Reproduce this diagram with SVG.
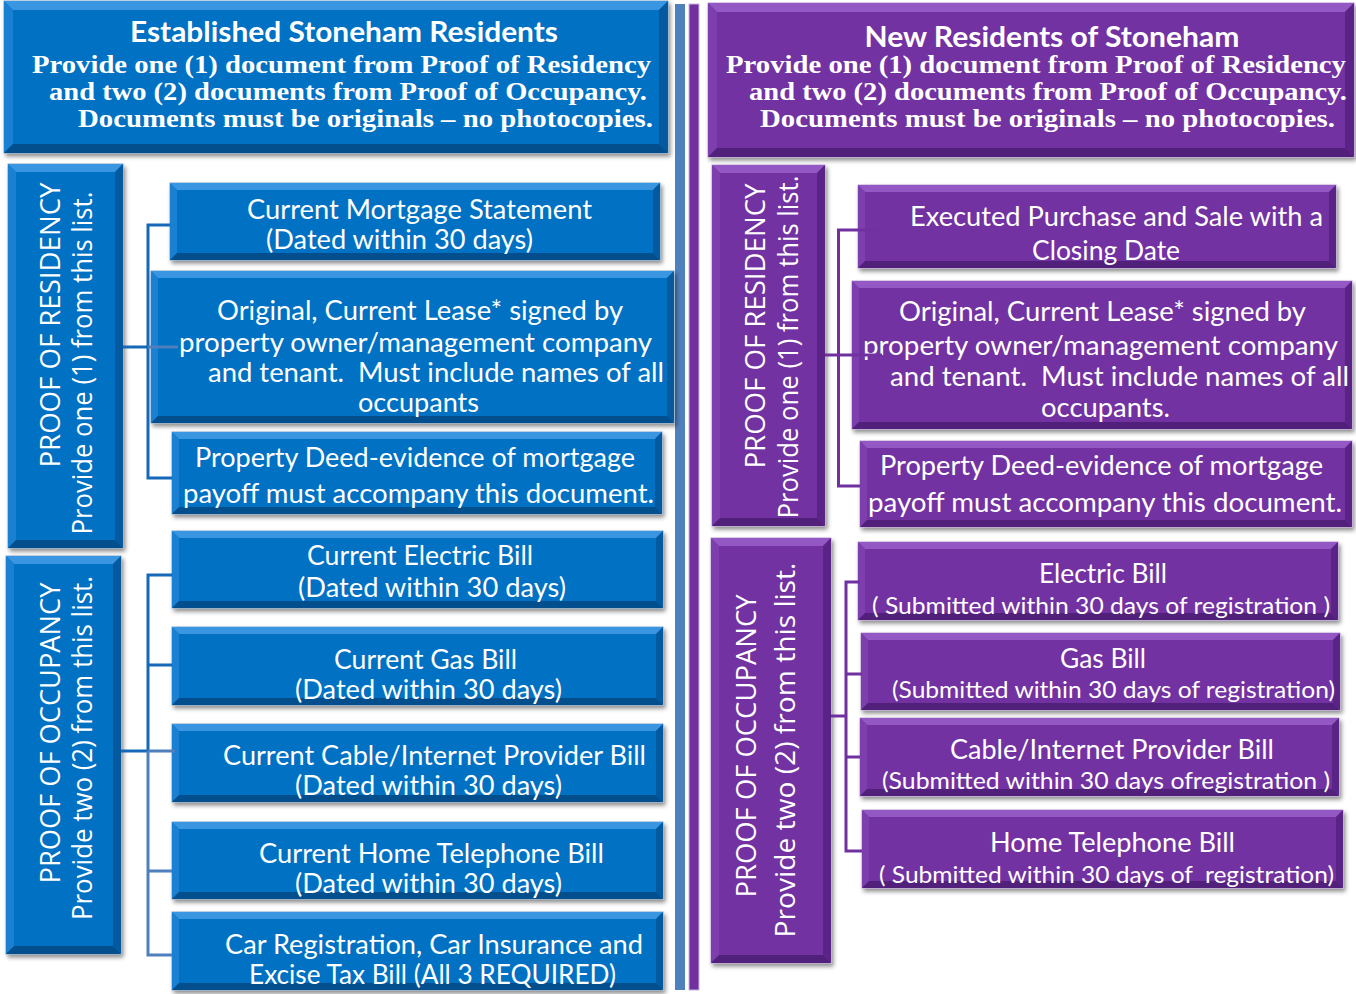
<svg xmlns="http://www.w3.org/2000/svg" width="1356" height="994" viewBox="0 0 1356 994">
<defs>
<filter id="sh" x="-5%" y="-5%" width="115%" height="125%">
<feDropShadow dx="2" dy="3" stdDeviation="2" flood-color="#000" flood-opacity="0.45"/>
</filter>
<style>
.blue .base{fill:#0671c3;stroke:#86a9cc;stroke-width:1}
.blue .bt{fill:#3b96e2}
.blue .bl{fill:#1a80d2}
.blue .br{fill:#04599f}
.blue .bb{fill:#034f8e}
.purple .base{fill:#7232a2;stroke:#b9a2d4;stroke-width:1}
.purple .bt{fill:#9358c4}
.purple .bl{fill:#7e3fae}
.purple .br{fill:#5a2486}
.purple .bb{fill:#51207b}
text{fill:#fff;white-space:pre}
.h{font-family:Lato,"Open Sans","Liberation Sans",sans-serif;font-weight:bold;font-size:28px}
.s{font-family:"Liberation Serif","DejaVu Serif",serif;font-weight:bold;font-size:25px}
.v{font-family:"Open Sans","Liberation Sans",sans-serif;font-size:27px}
.t{font-family:Lato,"Open Sans","Liberation Sans",sans-serif;font-size:26px}
.t2{font-family:Lato,"Open Sans","Liberation Sans",sans-serif;font-size:24px}
.cb{fill:none;stroke:#1668b8;stroke-width:3}
.cl{fill:none;stroke:#4f7fbd;stroke-width:3}
.cp{fill:none;stroke:#7030a0;stroke-width:3}
</style>
</defs>
<rect width="1356" height="994" fill="#fff"/>
<g id="dividers">
<rect x="675" y="4" width="10" height="986" fill="#4f81bd"/>
<rect x="689" y="4" width="10" height="986" fill="#7030a0" stroke="#c9b5dc" stroke-width="1"/>
</g>

<g id="header-established" class="blue">
<rect class="base" x="4" y="1" width="664" height="152" filter="url(#sh)"/>
<polygon class="bt" points="4,1 668,1 659,10 13,10"/>
<polygon class="bl" points="4,1 13,10 13,144 4,153"/>
<polygon class="br" points="668,1 668,153 659,144 659,10"/>
<polygon class="bb" points="4,153 668,153 659,144 13,144"/>
<text class="h" x="344" y="42" text-anchor="middle" textLength="428" lengthAdjust="spacingAndGlyphs">Established Stoneham Residents</text>
<text class="s" x="32" y="73" textLength="619" lengthAdjust="spacingAndGlyphs">Provide one (1) document from Proof of Residency</text>
<text class="s" x="49" y="100" textLength="598" lengthAdjust="spacingAndGlyphs">and two (2) documents from Proof of Occupancy.</text>
<text class="s" x="78" y="127" textLength="575" lengthAdjust="spacingAndGlyphs">Documents must be originals – no photocopies.</text>
</g>

<g id="left-residency" class="blue">
<rect class="base" x="8" y="164" width="115" height="384" filter="url(#sh)"/>
<polygon class="bt" points="8,164 123,164 115,172 16,172"/>
<polygon class="bl" points="8,164 16,172 16,540 8,548"/>
<polygon class="br" points="123,164 123,548 115,540 115,172"/>
<polygon class="bb" points="8,548 123,548 115,540 16,540"/>
<text class="v" transform="translate(60,325) rotate(-90)" text-anchor="middle" textLength="285" lengthAdjust="spacingAndGlyphs">PROOF OF RESIDENCY</text>
<text class="v" transform="translate(92,363) rotate(-90)" text-anchor="middle" textLength="343" lengthAdjust="spacingAndGlyphs">Provide one (1) from this list.</text>
</g>

<g id="left-occupancy" class="blue">
<rect class="base" x="6" y="556" width="115" height="398" filter="url(#sh)"/>
<polygon class="bt" points="6,556 121,556 113,564 14,564"/>
<polygon class="bl" points="6,556 14,564 14,946 6,954"/>
<polygon class="br" points="121,556 121,954 113,946 113,564"/>
<polygon class="bb" points="6,954 121,954 113,946 14,946"/>
<text class="v" transform="translate(60,733) rotate(-90)" text-anchor="middle" textLength="301" lengthAdjust="spacingAndGlyphs">PROOF OF OCCUPANCY</text>
<text class="v" transform="translate(92,748) rotate(-90)" text-anchor="middle" textLength="344" lengthAdjust="spacingAndGlyphs">Provide two (2) from this list.</text>
</g>

<g id="l-mortgage" class="blue">
<rect class="base" x="170" y="183" width="490" height="77" filter="url(#sh)"/>
<polygon class="bt" points="170,183 660,183 653,190 177,190"/>
<polygon class="bl" points="170,183 177,190 177,253 170,260"/>
<polygon class="br" points="660,183 660,260 653,253 653,190"/>
<polygon class="bb" points="170,260 660,260 653,253 177,253"/>
<text class="t" x="247" y="219" textLength="345" lengthAdjust="spacingAndGlyphs">Current Mortgage Statement</text>
<text class="t" x="266" y="249" textLength="267" lengthAdjust="spacingAndGlyphs">(Dated within 30 days)</text>
</g>

<g id="l-lease" class="blue">
<rect class="base" x="151" y="271" width="523" height="152" filter="url(#sh)"/>
<polygon class="bt" points="151,271 674,271 667,278 158,278"/>
<polygon class="bl" points="151,271 158,278 158,416 151,423"/>
<polygon class="br" points="674,271 674,423 667,416 667,278"/>
<polygon class="bb" points="151,423 674,423 667,416 158,416"/>
<text class="t" x="217" y="320" textLength="406" lengthAdjust="spacingAndGlyphs">Original, Current Lease* signed by</text>
<text class="t" x="179" y="352" textLength="473" lengthAdjust="spacingAndGlyphs">property owner/management company</text>
<text class="t" x="208" y="382" textLength="456" lengthAdjust="spacingAndGlyphs">and tenant.  Must include names of all</text>
<text class="t" x="358" y="412" textLength="121" lengthAdjust="spacingAndGlyphs">occupants</text>
</g>

<g id="l-deed" class="blue">
<rect class="base" x="172" y="432" width="490" height="82" filter="url(#sh)"/>
<polygon class="bt" points="172,432 662,432 655,439 179,439"/>
<polygon class="bl" points="172,432 179,439 179,507 172,514"/>
<polygon class="br" points="662,432 662,514 655,507 655,439"/>
<polygon class="bb" points="172,514 662,514 655,507 179,507"/>
<text class="t" x="195" y="467" textLength="440" lengthAdjust="spacingAndGlyphs">Property Deed-evidence of mortgage</text>
<text class="t" x="183" y="503" textLength="471" lengthAdjust="spacingAndGlyphs">payoff must accompany this document.</text>
</g>

<g id="l-electric" class="blue">
<rect class="base" x="172" y="531" width="491" height="77" filter="url(#sh)"/>
<polygon class="bt" points="172,531 663,531 656,538 179,538"/>
<polygon class="bl" points="172,531 179,538 179,601 172,608"/>
<polygon class="br" points="663,531 663,608 656,601 656,538"/>
<polygon class="bb" points="172,608 663,608 656,601 179,601"/>
<text class="t" x="307" y="565" textLength="226" lengthAdjust="spacingAndGlyphs">Current Electric Bill</text>
<text class="t" x="298" y="597" textLength="268" lengthAdjust="spacingAndGlyphs">(Dated within 30 days)</text>
</g>

<g id="l-gas" class="blue">
<rect class="base" x="172" y="627" width="491" height="78" filter="url(#sh)"/>
<polygon class="bt" points="172,627 663,627 656,634 179,634"/>
<polygon class="bl" points="172,627 179,634 179,698 172,705"/>
<polygon class="br" points="663,627 663,705 656,698 656,634"/>
<polygon class="bb" points="172,705 663,705 656,698 179,698"/>
<text class="t" x="334" y="669" textLength="183" lengthAdjust="spacingAndGlyphs">Current Gas Bill</text>
<text class="t" x="295" y="699" textLength="267" lengthAdjust="spacingAndGlyphs">(Dated within 30 days)</text>
</g>

<g id="l-cable" class="blue">
<rect class="base" x="172" y="724" width="491" height="78" filter="url(#sh)"/>
<polygon class="bt" points="172,724 663,724 656,731 179,731"/>
<polygon class="bl" points="172,724 179,731 179,795 172,802"/>
<polygon class="br" points="663,724 663,802 656,795 656,731"/>
<polygon class="bb" points="172,802 663,802 656,795 179,795"/>
<text class="t" x="223" y="765" textLength="423" lengthAdjust="spacingAndGlyphs">Current Cable/Internet Provider Bill</text>
<text class="t" x="295" y="795" textLength="267" lengthAdjust="spacingAndGlyphs">(Dated within 30 days)</text>
</g>

<g id="l-phone" class="blue">
<rect class="base" x="172" y="822" width="491" height="77" filter="url(#sh)"/>
<polygon class="bt" points="172,822 663,822 656,829 179,829"/>
<polygon class="bl" points="172,822 179,829 179,892 172,899"/>
<polygon class="br" points="663,822 663,899 656,892 656,829"/>
<polygon class="bb" points="172,899 663,899 656,892 179,892"/>
<text class="t" x="259" y="863" textLength="345" lengthAdjust="spacingAndGlyphs">Current Home Telephone Bill</text>
<text class="t" x="295" y="893" textLength="267" lengthAdjust="spacingAndGlyphs">(Dated within 30 days)</text>
</g>

<g id="l-car" class="blue">
<rect class="base" x="172" y="912" width="491" height="78" filter="url(#sh)"/>
<polygon class="bt" points="172,912 663,912 656,919 179,919"/>
<polygon class="bl" points="172,912 179,919 179,983 172,990"/>
<polygon class="br" points="663,912 663,990 656,983 656,919"/>
<polygon class="bb" points="172,990 663,990 656,983 179,983"/>
<text class="t" x="225" y="954" textLength="418" lengthAdjust="spacingAndGlyphs">Car Registration, Car Insurance and</text>
<text class="t" x="249" y="984" textLength="367" lengthAdjust="spacingAndGlyphs">Excise Tax Bill (All 3 REQUIRED)</text>
</g>

<g id="header-new" class="purple">
<rect class="base" x="708" y="3" width="646" height="154" filter="url(#sh)"/>
<polygon class="bt" points="708,3 1354,3 1345,12 717,12"/>
<polygon class="bl" points="708,3 717,12 717,148 708,157"/>
<polygon class="br" points="1354,3 1354,157 1345,148 1345,12"/>
<polygon class="bb" points="708,157 1354,157 1345,148 717,148"/>
<text class="h" x="1052" y="47" text-anchor="middle" textLength="375" lengthAdjust="spacingAndGlyphs">New Residents of Stoneham</text>
<text class="s" x="726" y="73" textLength="620" lengthAdjust="spacingAndGlyphs">Provide one (1) document from Proof of Residency</text>
<text class="s" x="749" y="100" textLength="598" lengthAdjust="spacingAndGlyphs">and two (2) documents from Proof of Occupancy.</text>
<text class="s" x="760" y="127" textLength="575" lengthAdjust="spacingAndGlyphs">Documents must be originals – no photocopies.</text>
</g>

<g id="right-residency" class="purple">
<rect class="base" x="712" y="165" width="113" height="361" filter="url(#sh)"/>
<polygon class="bt" points="712,165 825,165 817,173 720,173"/>
<polygon class="bl" points="712,165 720,173 720,518 712,526"/>
<polygon class="br" points="825,165 825,526 817,518 817,173"/>
<polygon class="bb" points="712,526 825,526 817,518 720,518"/>
<text class="v" transform="translate(765,326) rotate(-90)" text-anchor="middle" textLength="285" lengthAdjust="spacingAndGlyphs">PROOF OF RESIDENCY</text>
<text class="v" transform="translate(798,347) rotate(-90)" text-anchor="middle" textLength="343" lengthAdjust="spacingAndGlyphs">Provide one (1) from this list.</text>
</g>

<g id="right-occupancy" class="purple">
<rect class="base" x="711" y="538" width="120" height="425" filter="url(#sh)"/>
<polygon class="bt" points="711,538 831,538 823,546 719,546"/>
<polygon class="bl" points="711,538 719,546 719,955 711,963"/>
<polygon class="br" points="831,538 831,963 823,955 823,546"/>
<polygon class="bb" points="711,963 831,963 823,955 719,955"/>
<text class="v" transform="translate(756,746) rotate(-90)" text-anchor="middle" textLength="303" lengthAdjust="spacingAndGlyphs">PROOF OF OCCUPANCY</text>
<text class="v" transform="translate(795,750) rotate(-90)" text-anchor="middle" textLength="375" lengthAdjust="spacingAndGlyphs">Provide two (2) from this list.</text>
</g>

<g id="r-purchase" class="purple">
<rect class="base" x="858" y="185" width="478" height="83" filter="url(#sh)"/>
<polygon class="bt" points="858,185 1336,185 1329,192 865,192"/>
<polygon class="bl" points="858,185 865,192 865,261 858,268"/>
<polygon class="br" points="1336,185 1336,268 1329,261 1329,192"/>
<polygon class="bb" points="858,268 1336,268 1329,261 865,261"/>
<text class="t" x="910" y="226" textLength="413" lengthAdjust="spacingAndGlyphs">Executed Purchase and Sale with a</text>
<text class="t" x="1032" y="260" textLength="148" lengthAdjust="spacingAndGlyphs">Closing Date</text>
</g>

<g id="r-lease" class="purple">
<rect class="base" x="852" y="281" width="500" height="148" filter="url(#sh)"/>
<polygon class="bt" points="852,281 1352,281 1345,288 859,288"/>
<polygon class="bl" points="852,281 859,288 859,422 852,429"/>
<polygon class="br" points="1352,281 1352,429 1345,422 1345,288"/>
<polygon class="bb" points="852,429 1352,429 1345,422 859,422"/>
<text class="t" x="899" y="321" textLength="407" lengthAdjust="spacingAndGlyphs">Original, Current Lease* signed by</text>
<text class="t" x="863" y="355" textLength="475" lengthAdjust="spacingAndGlyphs">property owner/management company</text>
<text class="t" x="890" y="386" textLength="459" lengthAdjust="spacingAndGlyphs">and tenant.  Must include names of all</text>
<text class="t" x="1041" y="417" textLength="129" lengthAdjust="spacingAndGlyphs">occupants.</text>
</g>

<g id="r-deed" class="purple">
<rect class="base" x="860" y="441" width="492" height="86" filter="url(#sh)"/>
<polygon class="bt" points="860,441 1352,441 1345,448 867,448"/>
<polygon class="bl" points="860,441 867,448 867,520 860,527"/>
<polygon class="br" points="1352,441 1352,527 1345,520 1345,448"/>
<polygon class="bb" points="860,527 1352,527 1345,520 867,520"/>
<text class="t" x="880" y="475" textLength="443" lengthAdjust="spacingAndGlyphs">Property Deed-evidence of mortgage</text>
<text class="t" x="868" y="512" textLength="474" lengthAdjust="spacingAndGlyphs">payoff must accompany this document.</text>
</g>

<g id="r-electric" class="purple">
<rect class="base" x="858" y="542" width="480" height="78" filter="url(#sh)"/>
<polygon class="bt" points="858,542 1338,542 1331,549 865,549"/>
<polygon class="bl" points="858,542 865,549 865,613 858,620"/>
<polygon class="br" points="1338,542 1338,620 1331,613 1331,549"/>
<polygon class="bb" points="858,620 1338,620 1331,613 865,613"/>
<text class="t" x="1039" y="583" textLength="128" lengthAdjust="spacingAndGlyphs">Electric Bill</text>
<text class="t2" x="872" y="614" textLength="458" lengthAdjust="spacingAndGlyphs">( Submitted within 30 days of registration )</text>
</g>

<g id="r-gas" class="purple">
<rect class="base" x="861" y="633" width="479" height="77" filter="url(#sh)"/>
<polygon class="bt" points="861,633 1340,633 1333,640 868,640"/>
<polygon class="bl" points="861,633 868,640 868,703 861,710"/>
<polygon class="br" points="1340,633 1340,710 1333,703 1333,640"/>
<polygon class="bb" points="861,710 1340,710 1333,703 868,703"/>
<text class="t" x="1060" y="668" textLength="86" lengthAdjust="spacingAndGlyphs">Gas Bill</text>
<text class="t2" x="892" y="698" textLength="443" lengthAdjust="spacingAndGlyphs">(Submitted within 30 days of registration)</text>
</g>

<g id="r-cable" class="purple">
<rect class="base" x="860" y="718" width="479" height="78" filter="url(#sh)"/>
<polygon class="bt" points="860,718 1339,718 1332,725 867,725"/>
<polygon class="bl" points="860,718 867,725 867,789 860,796"/>
<polygon class="br" points="1339,718 1339,796 1332,789 1332,725"/>
<polygon class="bb" points="860,796 1339,796 1332,789 867,789"/>
<text class="t" x="950" y="759" textLength="324" lengthAdjust="spacingAndGlyphs">Cable/Internet Provider Bill</text>
<text class="t2" x="882" y="789" textLength="448" lengthAdjust="spacingAndGlyphs">(Submitted within 30 days ofregistration )</text>
</g>

<g id="r-phone" class="purple">
<rect class="base" x="862" y="810" width="481" height="78" filter="url(#sh)"/>
<polygon class="bt" points="862,810 1343,810 1336,817 869,817"/>
<polygon class="bl" points="862,810 869,817 869,881 862,888"/>
<polygon class="br" points="1343,810 1343,888 1336,881 1336,817"/>
<polygon class="bb" points="862,888 1343,888 1336,881 869,881"/>
<text class="t" x="990" y="852" textLength="245" lengthAdjust="spacingAndGlyphs">Home Telephone Bill</text>
<text class="t2" x="879" y="883" textLength="455" lengthAdjust="spacingAndGlyphs">( Submitted within 30 days of  registration)</text>
</g>

<g id="connectors">
<path class="cb" d="M123,347 H148 M170,225 H148 V478 H172"/>
<path class="cl" d="M148,347 H178"/>
<path class="cb" d="M121,751 H148 M172,575 H148 V751 M148,665 H172"/>
<path class="cl" d="M148,751 V955 H172 M148,751 H175 M148,871 H172"/>
<path class="cp" d="M825,355 H882 M882,230 H838.5 V486 H860"/>
<path class="cp" d="M831,716 H846 M860,582 H846 V851 H862 M846,674 H862 M846,757 H860"/>
</g>
</svg>
